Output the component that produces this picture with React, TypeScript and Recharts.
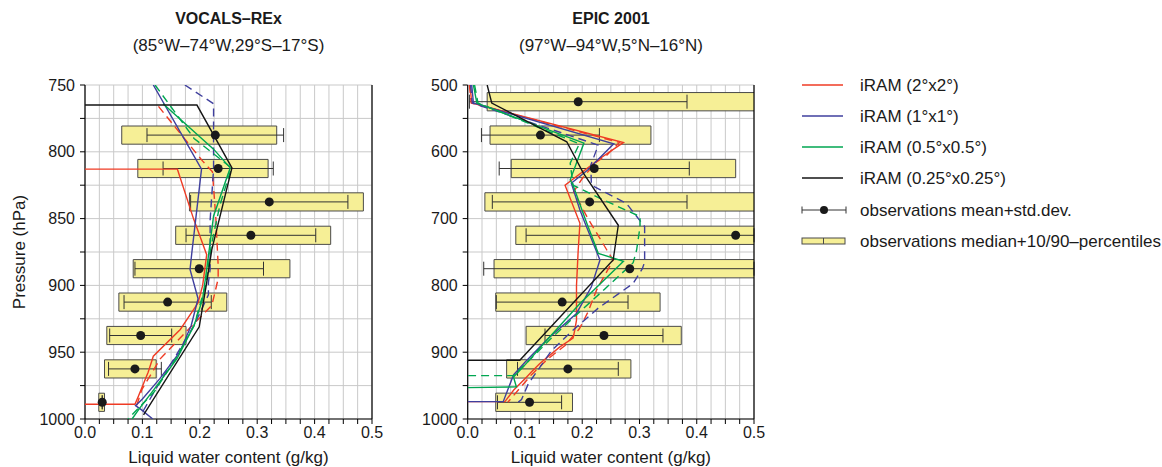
import React from 'react';
import { ScatterChart, Scatter, XAxis, YAxis, CartesianGrid, ReferenceArea, ErrorBar } from 'recharts';

const FONT = '"Liberation Sans", Arial, Helvetica, sans-serif';
const RED = '#ef3b24';
const BLUE = '#3f3f9e';
const GREEN = '#00a651';
const BLACK = '#151515';
const BOX_FILL = '#f6ef96';
const BOX_STROKE = '#4a4a4a';
const GRID = '#c9c9c9';
const TEXT = '#1a1a1a';
const X_MAX = 0.5;

// ---------- tick definitions ----------
const X_TICKS = [0, 0.025, 0.05, 0.075, 0.1, 0.125, 0.15, 0.175, 0.2, 0.225, 0.25, 0.275, 0.3, 0.325, 0.35, 0.375, 0.4, 0.425, 0.45, 0.475, 0.5];
const VOCALS_Y_TICKS = [750, 775, 800, 825, 850, 875, 900, 925, 950, 975, 1000];
const EPIC_Y_TICKS = [500, 550, 600, 650, 700, 750, 800, 850, 900, 950, 1000];

// ---------- VOCALS-REx observations ----------
const vocalsObsP = [787.5, 812.5, 837.5, 862.5, 887.5, 912.5, 937.5, 962.5, 987.5];
const vocalsP10 = [0.064, 0.092, 0.182, 0.158, 0.084, 0.059, 0.038, 0.034, 0.024];
const vocalsP90 = [0.334, 0.319, 0.485, 0.428, 0.357, 0.247, 0.176, 0.124, 0.034];
const vocalsMean = [0.227, 0.232, 0.321, 0.289, 0.199, 0.144, 0.097, 0.087, 0.030];
const vocalsStd = [0.119, 0.096, 0.137, 0.113, 0.112, 0.076, 0.054, 0.046, 0.0];

// ---------- VOCALS-REx model profiles ----------
const vocals2Solid_P = [813, 813, 850, 877, 900, 913, 933, 953, 965, 983, 989, 989];
const vocals2Solid_X = [0, 0.161, 0.189, 0.212, 0.205, 0.197, 0.166, 0.119, 0.110, 0.093, 0.087, 0];
const vocals2Dash_P = [766, 807, 815, 850, 885, 895, 915, 933, 955, 978, 990];
const vocals2Dash_X = [0.128, 0.205, 0.222, 0.228, 0.232, 0.232, 0.221, 0.180, 0.131, 0.099, 0.09];
const vocals1Solid_P = [750, 813, 876, 888, 910, 930, 950, 970, 985, 990, 993, 1000];
const vocals1Solid_X = [0.119, 0.203, 0.186, 0.183, 0.197, 0.185, 0.165, 0.13, 0.10, 0.088, 0.098, 0.118];
const vocals1Dash_P = [750, 764, 813, 851, 888, 898, 907, 930, 955, 980, 995];
const vocals1Dash_X = [0.174, 0.224, 0.224, 0.218, 0.218, 0.215, 0.215, 0.19, 0.155, 0.12, 0.1];
const vocals05Solid_P = [764, 798, 812, 848, 888, 910, 930, 955, 978, 992, 1000];
const vocals05Solid_X = [0.136, 0.224, 0.253, 0.224, 0.212, 0.205, 0.19, 0.16, 0.12, 0.095, 0.082];
const vocals05Dash_P = [750, 790, 812, 840, 870, 900, 930, 955, 980, 1000];
const vocals05Dash_X = [0.122, 0.19, 0.255, 0.235, 0.22, 0.21, 0.19, 0.158, 0.12, 0.075];
const vocals025Solid_P = [765, 765, 812, 873, 898, 931, 997];
const vocals025Solid_X = [0, 0.195, 0.256, 0.221, 0.212, 0.199, 0.102];

// ---------- EPIC 2001 observations ----------
const epicObsP = [525, 575, 625, 675, 725, 775, 825, 875, 925, 975];
const epicP10 = [0.034, 0.039, 0.076, 0.030, 0.084, 0.046, 0.049, 0.102, 0.068, 0.049];
const epicP90 = [0.62, 0.320, 0.468, 0.60, 0.66, 0.64, 0.336, 0.373, 0.285, 0.183];
const epicMean = [0.193, 0.127, 0.221, 0.213, 0.468, 0.283, 0.165, 0.238, 0.175, 0.108];
const epicStd = [0.19, 0.103, 0.166, 0.17, 0.366, 0.255, 0.115, 0.103, 0.088, 0.056];

// ---------- EPIC 2001 model profiles ----------
const epic2Solid_P = [500, 527, 586, 610, 650, 707, 747, 800, 852, 867, 879, 892, 917, 929, 937, 957, 974, 974];
const epic2Solid_X = [0.004, 0.007, 0.272, 0.231, 0.170, 0.196, 0.193, 0.19, 0.19, 0.187, 0.184, 0.161, 0.126, 0.112, 0.103, 0.080, 0.065, 0];
const epic2Dash_P = [500, 527, 586, 605, 615, 640, 660, 700, 747, 762, 807, 840, 865, 890, 910, 935, 960, 975];
const epic2Dash_X = [0.003, 0.006, 0.265, 0.243, 0.225, 0.2, 0.185, 0.21, 0.243, 0.254, 0.225, 0.21, 0.195, 0.17, 0.14, 0.11, 0.085, 0.07];
const epic1Solid_P = [500, 527, 588, 627, 647, 687, 707, 762, 802, 842, 880, 915, 934, 974, 974];
const epic1Solid_X = [0.007, 0.01, 0.255, 0.21, 0.181, 0.196, 0.205, 0.231, 0.216, 0.19, 0.14, 0.10, 0.08, 0.062, 0];
const epic1Dash_P = [500, 527, 590, 620, 650, 677, 712, 765, 775, 797, 834, 870, 897, 947, 971, 975];
const epic1Dash_X = [0.005, 0.008, 0.228, 0.215, 0.216, 0.277, 0.309, 0.309, 0.305, 0.289, 0.228, 0.18, 0.147, 0.106, 0.094, 0.088];
const epic05Solid_P = [500, 527, 587, 642, 650, 707, 752, 764, 827, 882, 922, 937, 952, 953];
const epic05Solid_X = [0.01, 0.016, 0.203, 0.179, 0.184, 0.208, 0.228, 0.272, 0.196, 0.138, 0.097, 0.08, 0.085, 0];
const epic05Dash_P = [500, 527, 588, 617, 650, 672, 697, 712, 747, 766, 805, 840, 880, 910, 935, 935];
const epic05Dash_X = [0.012, 0.018, 0.195, 0.179, 0.184, 0.237, 0.301, 0.301, 0.295, 0.289, 0.24, 0.195, 0.145, 0.11, 0.08, 0];
const epic025Solid_P = [500, 527, 585, 632, 710, 762, 912, 912];
const epic025Solid_X = [0.034, 0.042, 0.173, 0.202, 0.263, 0.254, 0.091, 0];

type LineDef = { p: number[]; x: number[]; color: string; dashed?: boolean };

const vocalsLines: LineDef[] = [
  { p: vocals2Solid_P, x: vocals2Solid_X, color: RED },
  { p: vocals2Dash_P, x: vocals2Dash_X, color: RED, dashed: true },
  { p: vocals1Solid_P, x: vocals1Solid_X, color: BLUE },
  { p: vocals1Dash_P, x: vocals1Dash_X, color: BLUE, dashed: true },
  { p: vocals05Solid_P, x: vocals05Solid_X, color: GREEN },
  { p: vocals05Dash_P, x: vocals05Dash_X, color: GREEN, dashed: true },
  { p: vocals025Solid_P, x: vocals025Solid_X, color: BLACK },
];

const epicLines: LineDef[] = [
  { p: epic2Solid_P, x: epic2Solid_X, color: RED },
  { p: epic2Dash_P, x: epic2Dash_X, color: RED, dashed: true },
  { p: epic1Solid_P, x: epic1Solid_X, color: BLUE },
  { p: epic1Dash_P, x: epic1Dash_X, color: BLUE, dashed: true },
  { p: epic05Solid_P, x: epic05Solid_X, color: GREEN },
  { p: epic05Dash_P, x: epic05Dash_X, color: GREEN, dashed: true },
  { p: epic025Solid_P, x: epic025Solid_X, color: BLACK },
];

const isMultiple = (v: number, step: number) => Math.abs(v / step - Math.round(v / step)) < 1e-6;

type PanelProps = {
  posLeft: number;
  width: number;
  marginLeft: number;
  marginRight: number;
  yDomain: [number, number];
  yTicks: number[];
  yLabelStep: number;
  half: number;
  lines: LineDef[];
  obsP: number[];
  p10: number[];
  p90: number[];
  mean: number[];
  std: number[];
};

const tickStyle = { fontSize: 16, fill: TEXT, fontFamily: FONT };

function Panel(props: PanelProps) {
  const { posLeft, width, marginLeft, marginRight, yDomain, yTicks, yLabelStep, half, lines, obsP, p10, p90, mean, std } = props;
  // error whiskers are cut at the right edge of the plot (as in the original figure)
  const obs = obsP.map((p, i) => ({ p, x: mean[i], err: [std[i], Math.min(std[i], X_MAX - mean[i])] }));
  return (
    <div style={{ position: 'absolute', left: posLeft, top: 0 }}>
      <ScatterChart width={width} height={467} margin={{ top: 85, right: marginRight, bottom: 0, left: marginLeft }}>
        <CartesianGrid xAxisId="b" yAxisId="l" stroke={GRID} strokeWidth={1} zIndex={-100} />
        {obsP.map((p, i) => (
          <ReferenceArea
            key={`box${i}`}
            xAxisId="b"
            yAxisId="l"
            x1={p10[i]}
            x2={p90[i]}
            y1={p - half}
            y2={p + half}
            fill={BOX_FILL}
            fillOpacity={1}
            stroke={BOX_STROKE}
            strokeWidth={1}
            ifOverflow="hidden"
            zIndex={-50}
          />
        ))}
        {lines.map((ln, i) => (
          <Scatter
            key={`ln${i}`}
            xAxisId="b"
            yAxisId="l"
            data={ln.p.map((p, j) => ({ p, x: ln.x[j] }))}
            fill="none"
            line={{ stroke: ln.color, strokeWidth: 1.4, strokeDasharray: ln.dashed ? '8 5' : undefined }}
            shape={() => <g />}
            legendType="none"
            isAnimationActive={false}
          />
        ))}
        <Scatter
          xAxisId="b"
          yAxisId="l"
          data={obs}
          fill={TEXT}
          shape={(s: any) => <circle cx={s.cx} cy={s.cy} r={4.5} fill={TEXT} />}
          legendType="none"
          isAnimationActive={false}
        >
          <ErrorBar dataKey="err" direction="x" width={7} stroke="#333" strokeWidth={1} />
        </Scatter>
        <XAxis
          xAxisId="b"
          dataKey="x"
          type="number"
          domain={[0, X_MAX]}
          allowDataOverflow
          ticks={X_TICKS}
          interval={0}
          height={48}
          tickSize={5}
          tickMargin={3}
          tick={tickStyle}
          tickFormatter={(v: number) => (isMultiple(v, 0.1) ? v.toFixed(1) : '')}
          axisLine={{ stroke: '#000', strokeWidth: 1.2 }}
          tickLine={{ stroke: '#000' }}
          label={{ value: 'Liquid water content (g/kg)', position: 'insideBottom', offset: 4, fontSize: 17, fill: TEXT, fontFamily: FONT }}
        />
        <XAxis
          xAxisId="t"
          orientation="top"
          type="number"
          domain={[0, X_MAX]}
          allowDataOverflow
          ticks={X_TICKS}
          interval={0}
          mirror
          height={0}
          tickSize={4}
          tick={false}
          axisLine={{ stroke: '#000', strokeWidth: 1.2 }}
          tickLine={{ stroke: '#000' }}
        />
        <YAxis
          yAxisId="l"
          dataKey="p"
          type="number"
          reversed
          domain={yDomain}
          allowDataOverflow
          ticks={yTicks}
          interval={0}
          width={45}
          tickSize={5}
          tickMargin={5}
          tick={tickStyle}
          tickFormatter={(v: number) => (isMultiple(v, yLabelStep) ? String(v) : '')}
          axisLine={{ stroke: '#000', strokeWidth: 1.2 }}
          tickLine={{ stroke: '#000' }}
        />
        <YAxis
          yAxisId="r"
          orientation="right"
          type="number"
          reversed
          domain={yDomain}
          allowDataOverflow
          ticks={yTicks}
          interval={0}
          width={10}
          tickSize={5}
          tick={false}
          axisLine={{ stroke: '#000', strokeWidth: 1.2 }}
          tickLine={{ stroke: '#000' }}
        />
      </ScatterChart>
    </div>
  );
}

const legendRows = [
  { label: 'iRAM (2°x2°)', color: RED, kind: 'line' },
  { label: 'iRAM (1°x1°)', color: BLUE, kind: 'line' },
  { label: 'iRAM (0.5°x0.5°)', color: GREEN, kind: 'line' },
  { label: 'iRAM (0.25°x0.25°)', color: BLACK, kind: 'line' },
  { label: 'observations mean+std.dev.', color: TEXT, kind: 'err' },
  { label: 'observations median+10/90–percentiles', color: TEXT, kind: 'box' },
];
const legendY = [85, 116, 147, 178, 210, 241];

export default function App() {
  return (
    <div style={{ position: 'absolute', left: 0, top: 0, width: 1162, height: 467, background: '#fff', overflow: 'hidden', fontFamily: FONT }}>
      <Panel
        posLeft={0}
        width={390}
        marginLeft={40}
        marginRight={8}
        yDomain={[750, 1000]}
        yTicks={VOCALS_Y_TICKS}
        yLabelStep={50}
        half={6.8}
        lines={vocalsLines}
        obsP={vocalsObsP}
        p10={vocalsP10}
        p90={vocalsP90}
        mean={vocalsMean}
        std={vocalsStd}
      />
      <Panel
        posLeft={400}
        width={370}
        marginLeft={22.7}
        marginRight={6}
        yDomain={[500, 1000]}
        yTicks={EPIC_Y_TICKS}
        yLabelStep={100}
        half={13.7}
        lines={epicLines}
        obsP={epicObsP}
        p10={epicP10}
        p90={epicP90}
        mean={epicMean}
        std={epicStd}
      />
      <svg width={1162} height={467} style={{ position: 'absolute', left: 0, top: 0, pointerEvents: 'none' }} fontFamily={FONT}>
        <text x={228.5} y={18} textAnchor="middle" dominantBaseline="central" fontSize={16} fontWeight="bold" fill={TEXT}>VOCALS–REx</text>
        <text x={228.5} y={45} textAnchor="middle" dominantBaseline="central" fontSize={17} fill={TEXT}>(85°W–74°W,29°S–17°S)</text>
        <text x={611} y={18} textAnchor="middle" dominantBaseline="central" fontSize={16} fontWeight="bold" fill={TEXT}>EPIC 2001</text>
        <text x={611} y={45} textAnchor="middle" dominantBaseline="central" fontSize={17} fill={TEXT}>(97°W–94°W,5°N–16°N)</text>
        <text transform="translate(19.5,252) rotate(-90)" textAnchor="middle" dominantBaseline="central" fontSize={17} fill={TEXT}>Pressure (hPa)</text>
        {legendRows.map((r, i) => {
          const y = legendY[i];
          return (
            <g key={r.label}>
              {r.kind === 'line' && <line x1={802} x2={843} y1={y} y2={y} stroke={r.color} strokeWidth={1.4} />}
              {r.kind === 'err' && (
                <g stroke="#333" strokeWidth={1}>
                  <line x1={802} x2={846} y1={y} y2={y} />
                  <line x1={802} x2={802} y1={y - 3.5} y2={y + 3.5} />
                  <line x1={846} x2={846} y1={y - 3.5} y2={y + 3.5} />
                  <circle cx={824} cy={y} r={4} fill={TEXT} stroke="none" />
                </g>
              )}
              {r.kind === 'box' && (
                <g>
                  <rect x={802} y={y - 3} width={43} height={6} fill={BOX_FILL} stroke={BOX_STROKE} strokeWidth={1} />
                  <line x1={823.5} x2={823.5} y1={y - 3} y2={y + 3} stroke={BOX_STROKE} strokeWidth={1} />
                </g>
              )}
              <text x={860} y={y} dominantBaseline="central" fontSize={17} fill={TEXT}>{r.label}</text>
            </g>
          );
        })}
      </svg>
    </div>
  );
}
